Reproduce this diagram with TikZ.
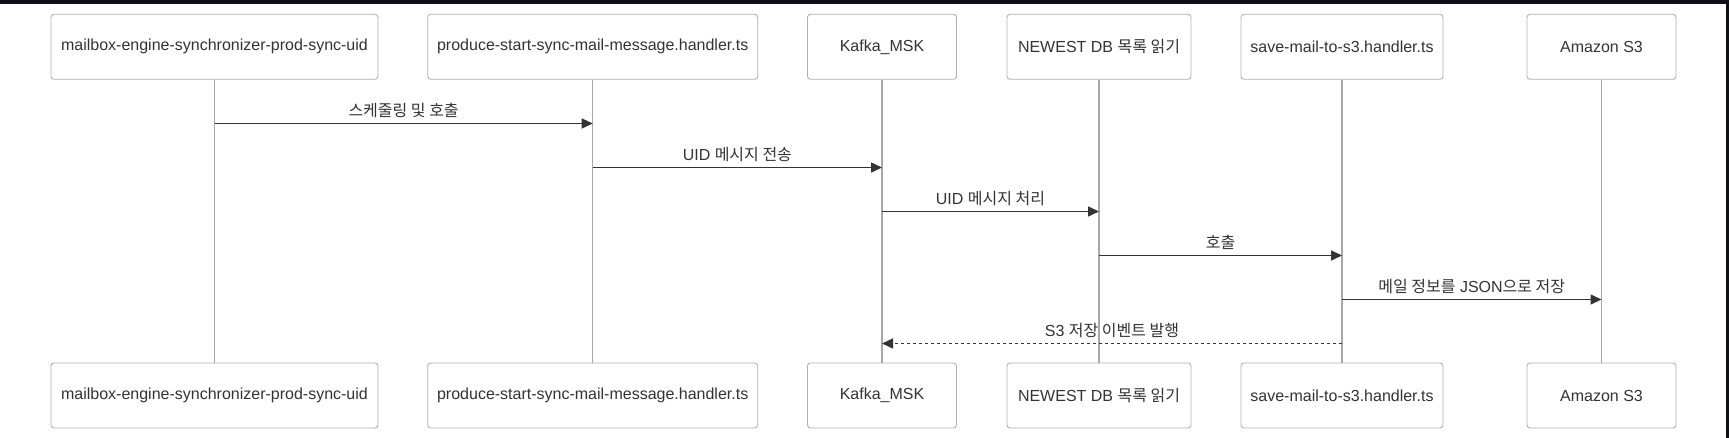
\documentclass[tikz,border=0pt]{standalone}
\usepackage{fontspec}
\setmainfont{Liberation Sans}
\newfontfamily\kr{Noto Sans CJK KR}
\usetikzlibrary{arrows.meta}
\definecolor{frame}{HTML}{0D1117}
\definecolor{boxline}{HTML}{B0B0B0}
\definecolor{lifeline}{HTML}{A8A8A8}
\definecolor{ink}{HTML}{333333}

\begin{document}
\begin{tikzpicture}[x=1pt,y=-1pt,
    actor/.style={draw=boxline,line width=0.9pt,fill=white,rounded corners=3pt,minimum height=65pt,inner sep=0pt,text=ink,font=\fontsize{16pt}{19pt}\selectfont},
    life/.style={draw=lifeline,line width=1.2pt},
    msg/.style={draw=ink,line width=1.5pt,-{Triangle[length=11pt,width=10pt]}},
    reply/.style={msg,dash pattern=on 3pt off 3pt},
    lbl/.style={above=5pt,inner sep=0pt,text=ink,font=\fontsize{16pt}{19pt}\selectfont}]
    \useasboundingbox (0,0) rectangle (1729,438);
    \fill[frame] (0,0) rectangle (1729,438);
    \fill[white] (0,4.5) rectangle (1726,438);

    % Participants (top row)
    \node[actor,minimum width=327pt] (mbxT) at (214.5,46.8) {mailbox-engine-synchronizer-prod-sync-uid};
    \node[actor,minimum width=330pt] (prodT) at (592.7,46.8) {produce-start-sync-mail-message.handler.ts};
    \node[actor,minimum width=149pt] (kafkaT) at (882,46.8) {Kafka\_MSK};
    \node[actor,minimum width=184pt] (dbT) at (1099,46.8) {NEWEST DB {\kr 목록 읽기}};
    \node[actor,minimum width=202pt] (saveT) at (1342,46.8) {save-mail-to-s3.handler.ts};
    \node[actor,minimum width=149pt] (s3T) at (1601.5,46.8) {Amazon S3};

    % Participants (bottom row)
    \node[actor,minimum width=327pt] (mbxB) at (214.5,395.5) {mailbox-engine-synchronizer-prod-sync-uid};
    \node[actor,minimum width=330pt] (prodB) at (592.7,395.5) {produce-start-sync-mail-message.handler.ts};
    \node[actor,minimum width=149pt] (kafkaB) at (882,395.5) {Kafka\_MSK};
    \node[actor,minimum width=184pt] (dbB) at (1099,395.5) {NEWEST DB {\kr 목록 읽기}};
    \node[actor,minimum width=202pt] (saveB) at (1342,395.5) {save-mail-to-s3.handler.ts};
    \node[actor,minimum width=149pt] (s3B) at (1601.5,395.5) {Amazon S3};

    % Lifelines
    \draw[life] (mbxT) -- (mbxB) (prodT) -- (prodB) (kafkaT) -- (kafkaB)
        (dbT) -- (dbB) (saveT) -- (saveB) (s3T) -- (s3B);

    % Messages
    \draw[msg] (mbxT |- 0,123.5) -- node[lbl] {\kr 스케줄링 및 호출} (prodT |- 0,123.5);
    \draw[msg] (prodT |- 0,167.5) -- node[lbl] {UID {\kr 메시지 전송}} (kafkaT |- 0,167.5);
    \draw[msg] (kafkaT |- 0,211.5) -- node[lbl] {UID {\kr 메시지 처리}} (dbT |- 0,211.5);
    \draw[msg] (dbT |- 0,255.5) -- node[lbl] {\kr 호출} (saveT |- 0,255.5);
    \draw[msg] (saveT |- 0,299.5) -- node[lbl] {{\kr 메일 정보를} JSON{\kr 으로 저장}} (s3T |- 0,299.5);
    \draw[reply] (saveT |- 0,343.5) -- node[lbl] {S3 {\kr 저장 이벤트 발행}} (kafkaT |- 0,343.5);
\end{tikzpicture}
\end{document}
